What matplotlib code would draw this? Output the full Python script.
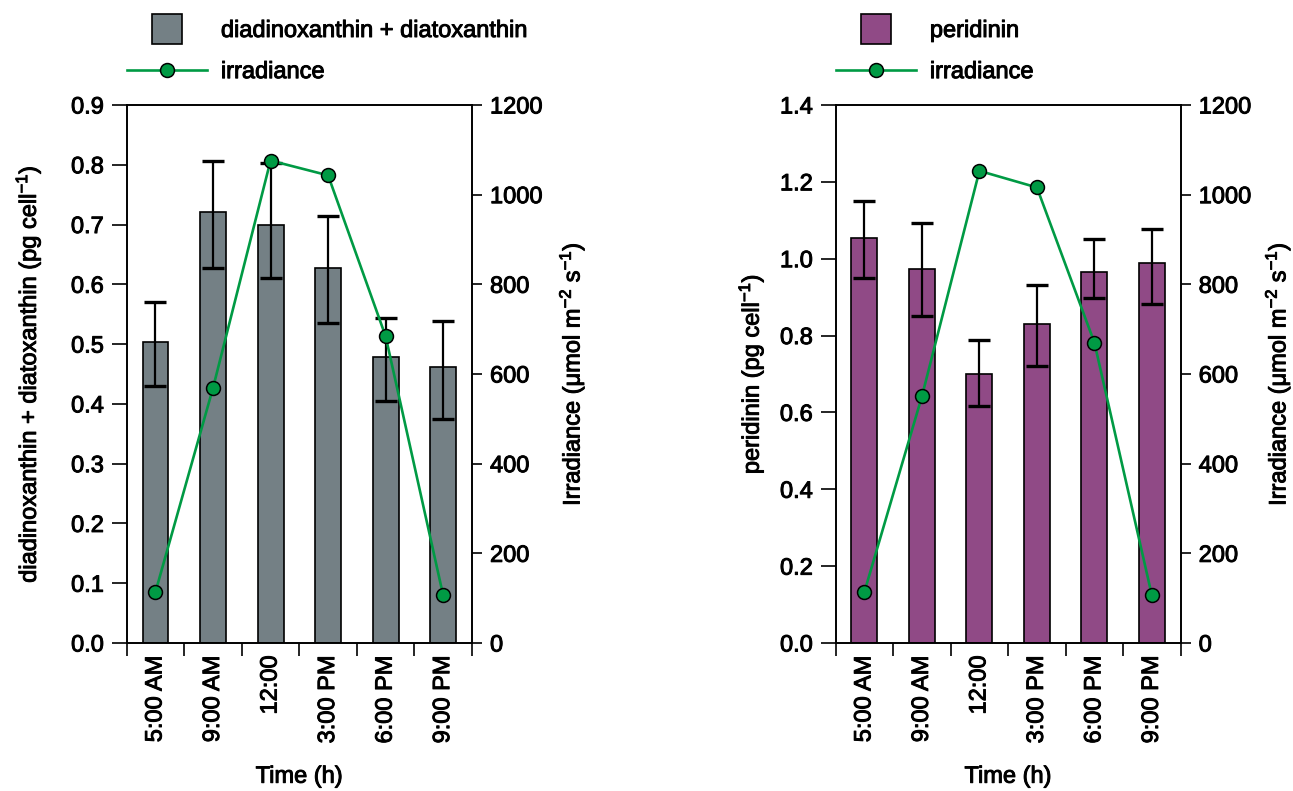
import numpy as np
import matplotlib.pyplot as plt
import matplotlib.patheffects as pe
from matplotlib.lines import Line2D
from matplotlib.text import Text

plt.rcParams['font.family'] = ['Liberation Sans', 'DejaVu Sans']
plt.rcParams['mathtext.fontset'] = 'custom'
plt.rcParams['mathtext.rm'] = 'Liberation Sans'
plt.rcParams['mathtext.it'] = 'Liberation Sans:italic'
plt.rcParams['font.size'] = 17

# data
times = ['5:00 AM', '9:00 AM', '12:00', '3:00 PM', '6:00 PM', '9:00 PM']

dd_mean  = [0.504, 0.721, 0.700, 0.628, 0.478, 0.462]
dd_upper = [0.570, 0.806, 0.803, 0.714, 0.544, 0.539]
dd_lower = [0.430, 0.627, 0.610, 0.536, 0.404, 0.374]
irr_left = [114, 569, 1076, 1043, 684, 106]

per_mean  = [1.054, 0.973, 0.699, 0.829, 0.966, 0.990]
per_upper = [1.149, 1.092, 0.789, 0.931, 1.052, 1.078]
per_lower = [0.949, 0.850, 0.616, 0.722, 0.899, 0.882]
irr_right = [114, 550, 1053, 1016, 670, 106]

green = '#009a44'

fig = plt.figure(figsize=(12.93, 7.91), dpi=100)


def panel(rect, mean, lower, upper, irr, color, ymax, ystep, ylabel, name, lpad_l, lpad_r):
    ax = fig.add_axes(rect)
    x = np.arange(len(times))
    mean = np.array(mean)
    yerr = [mean - np.array(lower), np.array(upper) - mean]
    ax.bar(x, mean, width=0.45, color=color, edgecolor='black', linewidth=1.2, zorder=2)
    ax.errorbar(x, mean, yerr=yerr, fmt='none', ecolor='black', elinewidth=1.6,
                capsize=7.8, capthick=2.4, zorder=3)
    ax.set_xlim(-0.5, 5.5)
    ax.set_ylim(0, ymax)
    ax.set_yticks(np.arange(0, ymax + ystep / 2, ystep))
    ax.yaxis.set_major_formatter(plt.FormatStrFormatter('%.1f'))
    ax.set_xticks(x)
    ax.set_xticklabels(times, rotation=90)
    ax.set_xticks(np.arange(-0.5, 6, 1), minor=True)
    ax.tick_params(axis='x', which='major', length=0, pad=9)
    ax.tick_params(axis='x', which='minor', length=9, width=1.2, direction='out')
    ax.tick_params(axis='y', length=10.5, width=1.2, direction='out', pad=6)
    for s in ax.spines.values():
        s.set_linewidth(1.2)
    ax.set_xlabel('Time (h)', labelpad=16)
    ax.set_ylabel(ylabel, labelpad=lpad_l)

    ax2 = ax.twinx()
    line, = ax2.plot(x, irr, color=green, linewidth=1.9, marker='o', markersize=10,
                     markerfacecolor=green, markeredgecolor='black', markeredgewidth=1.1)
    ax2.set_ylim(0, 1200)
    ax2.set_yticks(np.arange(0, 1201, 200))
    ax2.tick_params(axis='y', length=7, width=1.2, direction='out', pad=6)
    for s in ax2.spines.values():
        s.set_linewidth(1.2)
    ax2.set_ylabel('Irradiance (μmol m$^{-2}$ s$^{-1}$)', labelpad=lpad_r)

    bar_handle = Line2D([], [], marker='s', markersize=21.5, linestyle='none',
                        markerfacecolor=color, markeredgecolor='black', markeredgewidth=1.2)
    ax2.legend([bar_handle, line], [name, 'irradiance'], loc='upper left',
               bbox_to_anchor=(rect[0], 1 - 20 / 791), bbox_transform=fig.transFigure,
               frameon=False, borderpad=0, borderaxespad=0, handlelength=3.39,
               handletextpad=0.6, labelspacing=0.81, fontsize=17)


panel([0.098, 0.1871, 0.267, 0.6802], dd_mean, dd_lower, dd_upper, irr_left,
      '#748085', 0.9, 0.1, 'diadinoxanthin + diatoxanthin (pg cell$^{-1}$)',
      'diadinoxanthin + diatoxanthin', 20, 10)
panel([0.6463, 0.1871, 0.2668, 0.6802], per_mean, per_lower, per_upper, irr_right,
      '#904a86', 1.4, 0.2, 'peridinin (pg cell$^{-1}$)', 'peridinin', 10, 8)

# the reference text is drawn slightly heavier than regular Arial
for t in fig.findobj(Text):
    t.set_path_effects([pe.withStroke(linewidth=0.7, foreground='black')])

fig.savefig('out.png', dpi=100)
